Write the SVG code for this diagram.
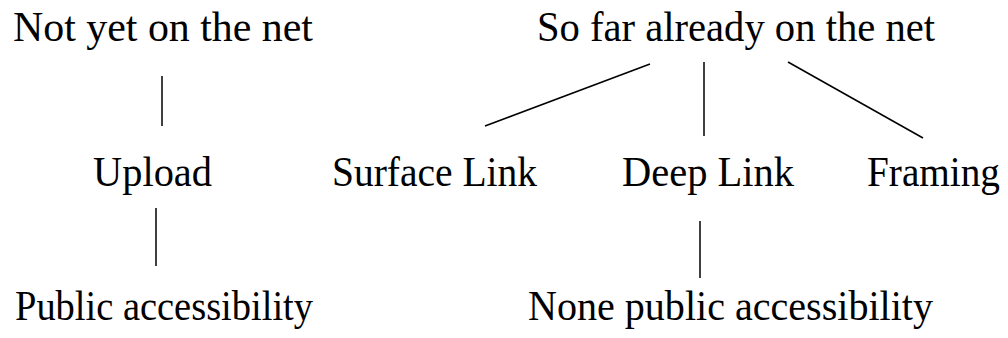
<svg xmlns="http://www.w3.org/2000/svg" width="1008" height="338" viewBox="0 0 1008 338">
<style>
text{font-family:"Liberation Serif","Times New Roman",serif;font-size:42px;fill:#000}
.c line{stroke:#000;stroke-width:1.5}
</style>
<rect width="1008" height="338" fill="#fff"/>
<g id="n-notyet"><text x="13" y="41" textLength="300" lengthAdjust="spacingAndGlyphs">Not yet on the net</text></g>
<g id="n-sofar"><text x="537" y="41" textLength="398" lengthAdjust="spacingAndGlyphs">So far already on the net</text></g>
<g id="n-upload"><text x="93" y="186" textLength="119" lengthAdjust="spacingAndGlyphs">Upload</text></g>
<g id="n-surface"><text x="332" y="186" textLength="205" lengthAdjust="spacingAndGlyphs">Surface Link</text></g>
<g id="n-deep"><text x="622" y="186" textLength="172" lengthAdjust="spacingAndGlyphs">Deep Link</text></g>
<g id="n-framing"><text x="867" y="186" textLength="133" lengthAdjust="spacingAndGlyphs">Framing</text></g>
<g id="n-public"><text x="15" y="320" textLength="298" lengthAdjust="spacingAndGlyphs">Public accessibility</text></g>
<g id="n-nonepublic"><text x="528" y="320" textLength="405" lengthAdjust="spacingAndGlyphs">None public accessibility</text></g>
<g id="connectors" class="c">
<line x1="162" y1="76" x2="162" y2="126"/>
<line x1="156" y1="208" x2="156" y2="266"/>
<line x1="650" y1="64" x2="485" y2="126"/>
<line x1="704" y1="62" x2="704" y2="136"/>
<line x1="788" y1="62" x2="923" y2="138"/>
<line x1="700" y1="221" x2="700" y2="278"/>
</g>
</svg>
